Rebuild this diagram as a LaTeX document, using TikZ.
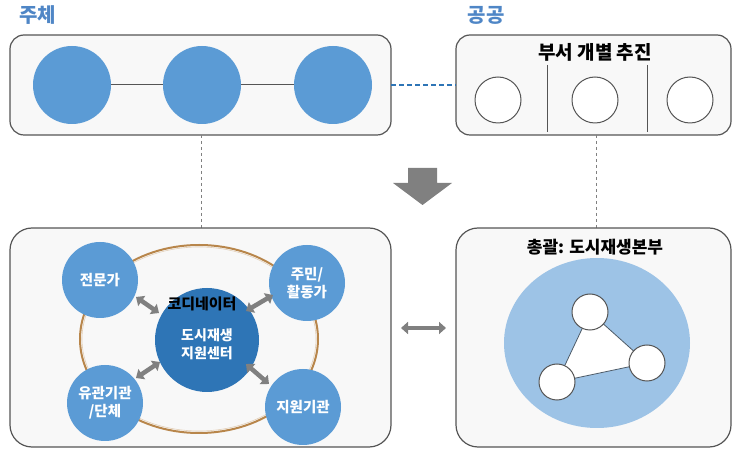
\documentclass[tikz,border=0pt]{standalone}
\usepackage{fontspec}
\setmainfont{Noto Sans CJK KR}
\usetikzlibrary{arrows.meta,shapes.geometric}
\definecolor{boxfill}{HTML}{F8F8F8}
\definecolor{boxline}{HTML}{555555}
\definecolor{midblue}{HTML}{5B9BD5}
\definecolor{darkblue}{HTML}{2E75B6}
\definecolor{lightblue}{HTML}{9DC3E6}
\definecolor{titleblue}{HTML}{4F86C6}
\definecolor{ringcol}{HTML}{B8864B}
\definecolor{arrgray}{HTML}{808080}
\tikzset{
  panel/.style={draw=boxline, fill=boxfill, line width=1.2pt, rounded corners=14pt},
  bigpanel/.style={draw=boxline, fill=boxfill, line width=1.2pt, rounded corners=22pt},
  bluedot/.style={circle, fill=midblue, minimum size=78pt, inner sep=0pt},
  whitedot/.style={circle, draw=boxline, fill=white, line width=1pt, minimum size=46pt, inner sep=0pt},
  smalldot/.style={circle, draw=boxline, fill=white, line width=1pt, minimum size=36pt, inner sep=0pt},
  satdot/.style={circle, fill=midblue, minimum size=76pt, inner sep=0pt, text=white, font=\fontsize{14.5}{18}\selectfont\bfseries, align=center},
  grouptitle/.style={font=\fontsize{20}{22}\selectfont\bfseries, text=titleblue},
  paneltitle/.style={font=\fontsize{17}{19}\selectfont\bfseries, text=black},
  linkarr/.style={draw=arrgray, line width=4.5pt, {Triangle[length=7pt,width=12pt]}-{Triangle[length=7pt,width=12pt]}},
  guide/.style={draw=arrgray, dashed, line width=0.8pt},
}
\begin{document}
\begin{tikzpicture}[x=1pt,y=-1pt]
\useasboundingbox (0,0) rectangle (732,454);
% titles
\node[grouptitle] (t1) at (38,15) {주체};
\node[grouptitle] (t2) at (486,15) {공공};
% top left panel
\draw[panel] (10,35) rectangle (391,135);
\node[bluedot] (a1) at (72,85) {};
\node[bluedot] (a2) at (202,85) {};
\node[bluedot] (a3) at (333,85) {};
\draw[boxline, line width=1pt] (a1) -- (a2) (a2) -- (a3);
% top right panel
\draw[panel] (456,35) rectangle (731,135);
\node[paneltitle, font=\fontsize{19}{21}\selectfont\bfseries] (pt) at (595,52) {부서 개별 추진};
\coordinate (v1t) at (547,65); \coordinate (v1b) at (547,132);
\coordinate (v2t) at (647,65); \coordinate (v2b) at (647,132);
\draw[boxline, line width=1pt] (v1t) -- (v1b) (v2t) -- (v2b);
\node[whitedot] (b1) at (498,100) {};
\node[whitedot] (b2) at (595,100) {};
\node[whitedot] (b3) at (690,100) {};
% blue dashed link
\coordinate (dl) at (391,85); \coordinate (dr) at (456,85);
\draw[darkblue, line width=1.5pt, dash pattern=on 5pt off 3pt] (dl) -- (dr);
% gray guides
\coordinate (g1t) at (201,135); \coordinate (g1b) at (201,228);
\coordinate (g2t) at (596,135); \coordinate (g2b) at (596,228);
\draw[guide] (g1t) -- (g1b);
\draw[guide] (g2t) -- (g2b);
% down block arrow
\fill[arrgray] (408,168) -- (437,168) -- (437,183) -- (452,183) -- (422.5,205) -- (393,183) -- (408,183) -- cycle;
% bottom left panel
\draw[bigpanel] (10,228) rectangle (391,447);
\node[ellipse, draw=ringcol, line width=2pt, minimum width=238pt, minimum height=188pt] (ring) at (199,339) {};
\node[ellipse, draw=ringcol!40, line width=0.6pt, minimum width=234pt, minimum height=184pt] (ringin) at (199,339) {};
\node[satdot] (s1) at (100,280) {전문가};
\node[satdot] (s2) at (307,283) {주민/\\활동가};
\node[satdot] (s3) at (105,403) {유관기관\\/단체};
\node[satdot] (s4) at (303,407) {지원기관};
\node[circle, fill=darkblue, minimum size=104pt, inner sep=0pt, text=white, font=\fontsize{14}{18}\selectfont\bfseries, align=center] (c) at (207,340) {\\[2pt]도시재생\\지원센터};
\node[font=\fontsize{15}{17}\selectfont\bfseries, text=black] (coord) at (202,304) {코디네이터};
\coordinate (e1a) at (136,297); \coordinate (e1b) at (159,313);
\coordinate (e2a) at (246,311); \coordinate (e2b) at (273,295);
\coordinate (e3a) at (136,378); \coordinate (e3b) at (160,362);
\coordinate (e4a) at (246,364); \coordinate (e4b) at (269,384);
\draw[linkarr] (e1a) -- (e1b);
\draw[linkarr] (e2a) -- (e2b);
\draw[linkarr] (e3a) -- (e3b);
\draw[linkarr] (e4a) -- (e4b);
% horizontal double arrow
\coordinate (ha) at (401,328); \coordinate (hb) at (446,328);
\draw[linkarr] (ha) -- (hb);
% bottom right panel
\draw[bigpanel] (456,228) rectangle (731,447);
\node[paneltitle] (pt2) at (595,247) {총괄: 도시재생본부};
\node[ellipse, fill=lightblue, minimum width=186pt, minimum height=170pt] (blob) at (597,343) {};
\coordinate (tt) at (590,312); \coordinate (tr) at (647,363); \coordinate (tl) at (557,382);
\filldraw[fill=white, draw=boxline!80!darkblue, line width=0.8pt] (tt) -- (tr) -- (tl) -- cycle;
\node[smalldot] (n1) at (tt) {};
\node[smalldot] (n2) at (tr) {};
\node[smalldot] (n3) at (tl) {};
\end{tikzpicture}
\end{document}
